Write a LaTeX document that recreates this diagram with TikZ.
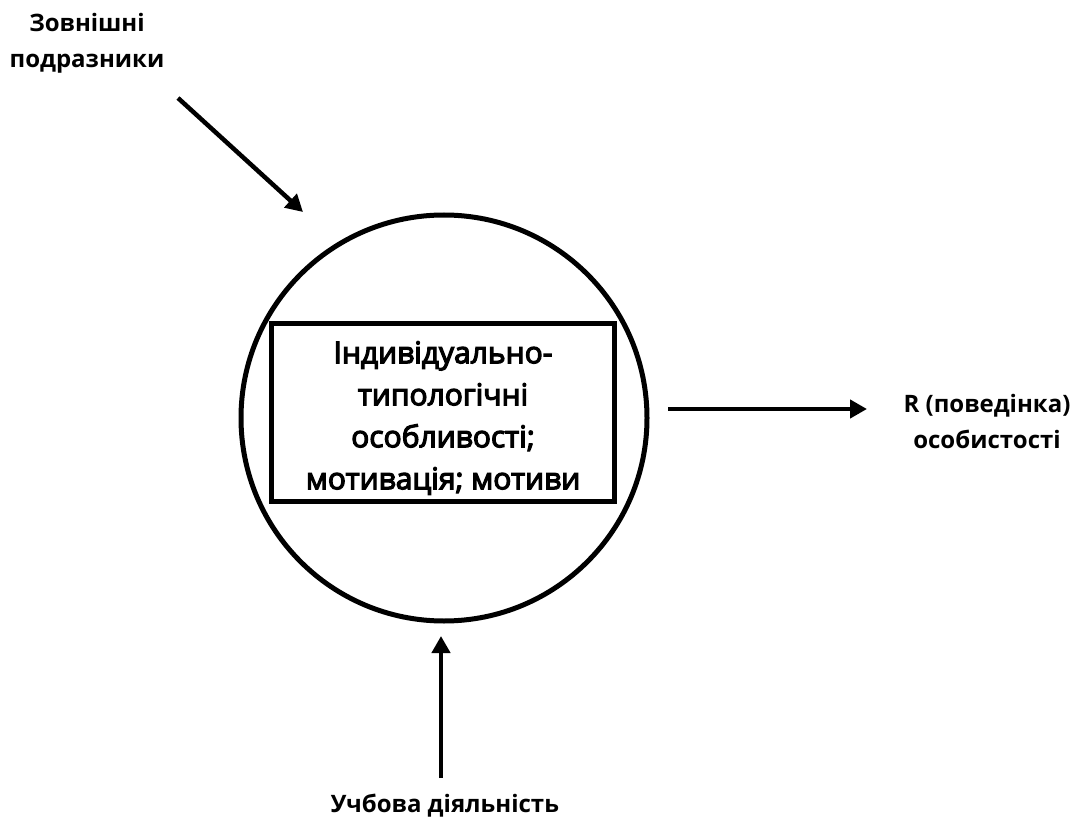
\documentclass[tikz,border=0pt]{standalone}
\usepackage{fontspec}
\setmainfont{Open Sans}
\newfontfamily\boxfont[FakeBold=4]{Open Sans}
\usetikzlibrary{arrows.meta}
\begin{document}
\begin{tikzpicture}[x=1pt,y=-1pt,
  lbl/.style={align=center,font=\fontsize{24}{36}\selectfont\bfseries,inner sep=0pt},
  arr/.style={line width=4.5pt,-{Triangle[length=17pt,width=18pt]}},
  shp/.style={line width=5pt}]
\useasboundingbox (0,0) rectangle (1082,821);
\node[shp,draw,circle,minimum size=406pt,inner sep=0pt] (circ) at (444,418) {};
\node[shp,draw,minimum width=343pt,minimum height=178pt,inner sep=0pt] (box) at (443,412) {};
\node[align=center,inner sep=0pt,font=\fontsize{30}{42}\selectfont\boxfont] (boxtxt) at (443,418) {Індивідуально-\\типологічні\\особливості;\\мотивація; мотиви};
\node[lbl] (ext) at (87,43) {Зовнішні\\подразники};
\node[lbl] (out) at (987,421) {R (поведінка)\\особистості};
\node[lbl] (study) at (445,806) {Учбова діяльність};
\coordinate (a1s) at (178,98);
\coordinate (a1e) at (303,212);
\coordinate (a2s) at (668,409);
\coordinate (a2e) at (867,409);
\coordinate (a3s) at (441,778);
\coordinate (a3e) at (441,636);
\draw[arr] (a1s) -- (a1e);
\draw[arr] (a2s) -- (a2e);
\draw[arr] (a3s) -- (a3e);
\end{tikzpicture}
\end{document}
